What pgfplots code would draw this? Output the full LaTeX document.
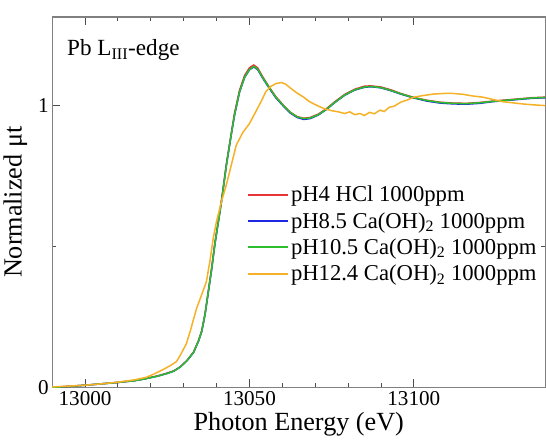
\documentclass[border=0pt]{standalone}
\usepackage{fontspec}
\setmainfont{Liberation Serif}[Ligatures=TeX]
\usepackage{pgfplots}
\pgfplotsset{compat=1.18}

\definecolor{cred}{RGB}{232,52,52}
\definecolor{cblue}{RGB}{30,40,225}
\definecolor{cgreen}{RGB}{45,190,45}
\definecolor{corange}{RGB}{245,178,40}
\definecolor{axgray}{RGB}{128,128,128}

% green curve, red and blue sit on top of it
\pgfplotstableread{
E mu
12990 0.000
12995 0.004
13000 0.008
13005 0.013
13010 0.018
13015 0.024
13018 0.030
13022 0.040
13025 0.050
13027 0.058
13029 0.073
13031 0.095
13033 0.125
13034.5 0.165
13035.5 0.200
13036.5 0.260
13037.5 0.340
13038.5 0.420
13039.5 0.510
13040.5 0.585
13041.5 0.660
13043 0.790
13044.5 0.900
13045.5 0.970
13047 1.050
13048.5 1.100
13050 1.128
13051.3 1.139
13052.5 1.130
13054 1.100
13056 1.064
13058 1.030
13060.5 0.998
13062.5 0.975
13064.5 0.960
13066.5 0.954
13068.5 0.956
13071 0.968
13073.5 0.988
13076 1.012
13079 1.038
13082 1.056
13085 1.066
13087 1.068
13090 1.064
13093 1.054
13096 1.042
13100 1.028
13104 1.018
13108 1.011
13112 1.008
13116 1.007
13120 1.010
13124 1.015
13128 1.019
13132 1.023
13136 1.027
13140 1.029
}\green

\pgfplotstableread{
E mu
12990 0.000
12995 0.004
13000 0.008
13005 0.013
13010 0.018
13015 0.025
13018 0.031
13022 0.041
13025 0.051
13027 0.059
13029 0.074
13031 0.096
13033 0.126
13034.5 0.166
13035.5 0.202
13036.5 0.262
13037.5 0.342
13038.5 0.423
13039.5 0.513
13040.5 0.588
13041.5 0.664
13043 0.794
13044.5 0.904
13045.5 0.975
13047 1.055
13048.5 1.106
13050 1.134
13051.3 1.144
13052.5 1.134
13054 1.103
13056 1.066
13058 1.032
13060.5 0.999
13062.5 0.976
13064.5 0.961
13066.5 0.955
13068.5 0.958
13071 0.970
13073.5 0.990
13076 1.014
13079 1.040
13082 1.058
13085 1.069
13087 1.070
13090 1.066
13093 1.056
13096 1.043
13100 1.029
13104 1.019
13108 1.012
13112 1.009
13116 1.008
13120 1.011
13124 1.016
13128 1.020
13132 1.024
13136 1.028
13140 1.030
}\red

\pgfplotstableread{
E mu
12990 0.000
12995 0.004
13000 0.008
13005 0.013
13010 0.018
13015 0.024
13018 0.030
13022 0.040
13025 0.050
13027 0.058
13029 0.073
13031 0.095
13033 0.124
13034.5 0.164
13035.5 0.199
13036.5 0.259
13037.5 0.339
13038.5 0.419
13039.5 0.509
13040.5 0.584
13041.5 0.659
13043 0.789
13044.5 0.899
13045.5 0.968
13047 1.048
13048.5 1.099
13050 1.127
13051.3 1.137
13052.5 1.128
13054 1.098
13056 1.062
13058 1.028
13060.5 0.996
13062.5 0.973
13064.5 0.958
13066.5 0.951
13068.5 0.954
13071 0.967
13073.5 0.987
13076 1.011
13079 1.037
13082 1.055
13085 1.065
13087 1.067
13090 1.063
13093 1.053
13096 1.041
13100 1.027
13104 1.016
13108 1.009
13112 1.006
13116 1.005
13120 1.008
13124 1.014
13128 1.018
13132 1.022
13136 1.026
13140 1.028
}\blue

\pgfplotstableread{
E mu
12990 0.002
12995 0.005
13000 0.008
13005 0.013
13010 0.019
13015 0.027
13018.6 0.036
13021 0.048
13023.8 0.064
13026 0.078
13027.8 0.092
13029 0.115
13030.8 0.155
13032 0.200
13033.9 0.280
13035.5 0.330
13036.9 0.375
13038 0.450
13039 0.530
13040 0.590
13041.5 0.660
13043 0.720
13044.5 0.790
13046 0.860
13048 0.905
13050 0.936
13052 0.980
13053.7 1.018
13055 1.050
13056.5 1.068
13058 1.078
13059.8 1.082
13061 1.076
13062.5 1.062
13064.4 1.045
13066.5 1.030
13068 1.016
13069.6 1.006
13071 0.998
13073 0.988
13075 0.982
13077 0.978
13079 0.972
13080.5 0.978
13082 0.968
13083.6 0.972
13085 0.965
13086.5 0.976
13088 0.971
13089.7 0.984
13091 0.979
13092.5 0.994
13094 0.998
13096 1.012
13098 1.020
13100 1.030
13103 1.036
13106 1.041
13109 1.043
13112 1.043
13115 1.040
13118 1.034
13121 1.030
13124 1.022
13127 1.014
13130 1.010
13133 1.006
13136 1.003
13140 1.000
}\orange

\begin{document}
\begin{tikzpicture}
\begin{axis}[
  scale only axis,
  width=490pt, height=368pt,
  xmin=12990, xmax=13140,
  ymin=0, ymax=1.314,
  xtick={13000,13050,13100},
  scaled ticks=false,
  minor x tick num=4,
  ytick={0,1},
  minor ytick={0.5},
  tick align=inside,
  major tick length=8pt,
  minor tick length=4pt,
  axis line style={color=axgray, line width=1.3pt},
  every tick/.style={color=black!70, line width=0.9pt},
  xticklabel={\pgfmathprintnumber[fixed, precision=0, 1000 sep={}]{\tick}},
  /pgf/number format/assume math mode=true,
  tick label style={font=\rmfamily\fontsize{21}{24}\selectfont},
  label style={font=\rmfamily\fontsize{26}{30}\selectfont},
  xlabel={Photon Energy (eV)},
  ylabel={Normalized μt},
  xlabel style={yshift=0pt},
  ylabel style={yshift=4pt},
  every axis plot/.append style={line width=1.5pt},
  legend image code/.code={\draw[#1, line width=2pt] (0pt,0pt) -- (40pt,0pt);},
  legend style={draw=none, fill=none, at={(0.39,0.555)}, anchor=north west,
    font=\rmfamily\fontsize{22.5}{27}\selectfont, legend cell align=left,
    row sep=5pt, inner sep=2pt},
]
\addplot[cred] table[x=E, y=mu] {\red};
\addlegendentry{pH4 HCl 1000ppm}
\addplot[cblue] table[x=E, y=mu] {\blue};
\addlegendentry{pH8.5 Ca(OH)\textsubscript{2} 1000ppm}
\addplot[cgreen] table[x=E, y=mu] {\green};
\addlegendentry{pH10.5 Ca(OH)\textsubscript{2} 1000ppm}
\addplot[corange] table[x=E, y=mu] {\orange};
\addlegendentry{pH12.4 Ca(OH)\textsubscript{2} 1000ppm}

\node[anchor=north west, font=\rmfamily\fontsize{23}{27}\selectfont, inner sep=0pt]
  at (rel axis cs:0.03,0.94) {Pb L\textsubscript{III}-edge};
\end{axis}
\node[inner sep=0pt, minimum size=0pt] at ([yshift=17pt]current axis.north) {};
\end{tikzpicture}
\end{document}
